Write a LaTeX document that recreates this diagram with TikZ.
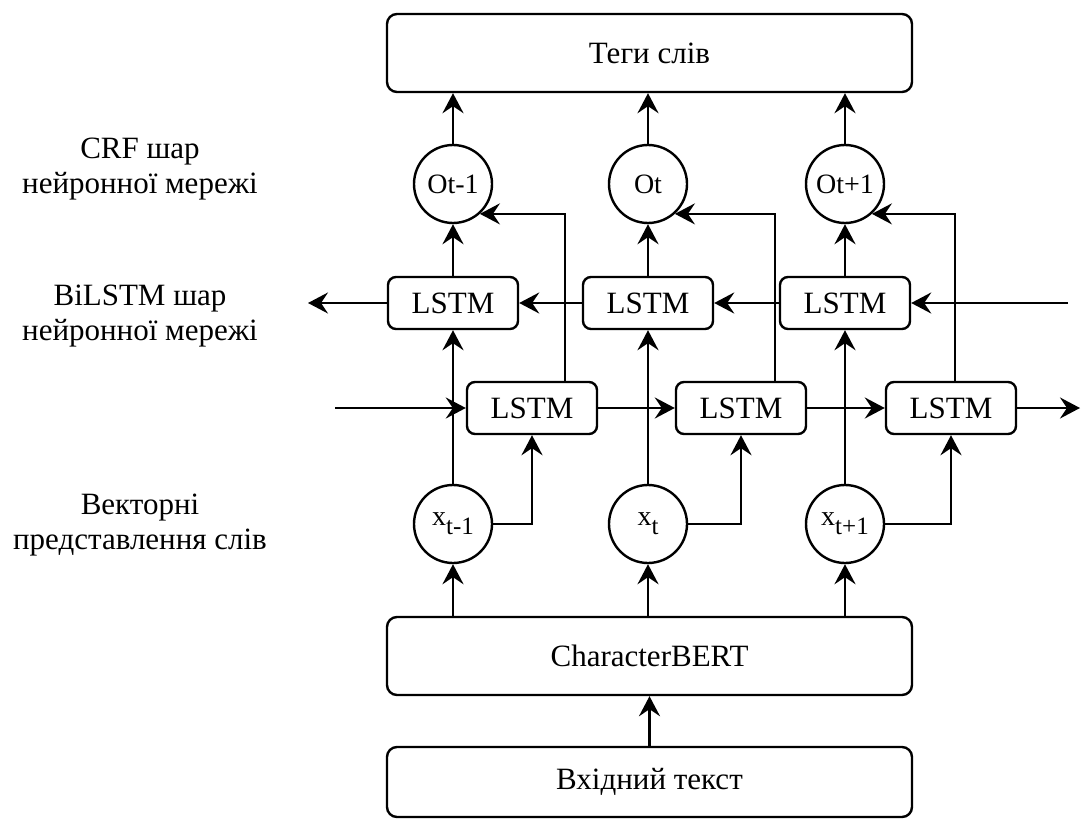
\documentclass[tikz,border=0pt]{standalone}
\usepackage{fontspec}
\setmainfont{Liberation Serif}
\usetikzlibrary{arrows.meta,calc}
\newcommand{\mysubx}[1]{x\raisebox{-9pt}{\fontsize{25}{25}\selectfont #1}}
\begin{document}
\begin{tikzpicture}[x=1pt,y=-1pt,
  line width=2.4pt,
  arr/.style={-{Stealth[length=20pt,width=21pt,inset=7pt]}},
  bigbox/.style={draw, rounded corners=10pt, minimum width=525pt, minimum height=78pt, inner sep=0pt, font=\fontsize{31}{31}\selectfont},
  lstm/.style={draw, rounded corners=8pt, minimum width=130pt, minimum height=52pt, inner sep=0pt, font=\fontsize{31}{31}\selectfont},
  neuron/.style={draw, circle, minimum size=78pt, inner sep=0pt, font=\fontsize{28}{28}\selectfont},
  lbl/.style={align=center, font=\fontsize{31}{35}\selectfont}
]
\useasboundingbox (0,0) rectangle (1081,821);

% left labels
\node[lbl] (crf) at (140,169) {CRF шар\\нейронної мережі};
\node[lbl] (bil) at (140,316) {BiLSTM шар\\нейронної мережі};
\node[lbl] (vec) at (140,525) {Векторні\\представлення слів};

% boxes
\node[bigbox] (tags) at (649.5,53) {Теги слів};
\node[bigbox] (cb) at (649.5,656) {CharacterBERT};
\node[bigbox, minimum height=70pt] (inp) at (649.5,782) {Вхідний текст};

% CRF outputs
\node[neuron] (O1) at (453,184) {Ot-1};
\node[neuron] (O2) at (648,184) {Ot};
\node[neuron] (O3) at (845,184) {Ot+1};

% backward LSTMs
\node[lstm] (U1) at (453,303) {LSTM};
\node[lstm] (U2) at (648,303) {LSTM};
\node[lstm] (U3) at (845,303) {LSTM};

% forward LSTMs
\node[lstm] (L1) at (532,408) {LSTM};
\node[lstm] (L2) at (741,408) {LSTM};
\node[lstm] (L3) at (951,408) {LSTM};

% word vectors
\node[neuron] (X1) at (453,524) {\mysubx{t-1}};
\node[neuron] (X2) at (648,524) {\mysubx{t}};
\node[neuron] (X3) at (845,524) {\mysubx{t+1}};

% free ends
\coordinate (bR) at (1068,303);
\coordinate (bL) at (308,303);
\coordinate (fL) at (335,408);
\coordinate (fR) at (1080,408);

% input -> CharacterBERT
\draw[arr] (inp.north) -- (cb.south);

% CharacterBERT -> x
\foreach \i in {1,2,3} {
  \draw[arr] (X\i.south |- cb.north) -- (X\i.south);
}

% x -> backward LSTM
\foreach \i in {1,2,3} {
  \draw[arr] (X\i.north) -- (X\i.north |- U\i.south);
}

% x -> forward LSTM
\foreach \i in {1,2,3} {
  \draw[arr] (X\i.east) -| (L\i.south);
}

% backward LSTM -> O
\foreach \i in {1,2,3} {
  \draw[arr] (U\i.north) -- (O\i.south);
}

% O -> tags
\foreach \i in {1,2,3} {
  \draw[arr] (O\i.north) -- (O\i.north |- tags.south);
}

% forward LSTM -> O (feedback)
\draw[arr] ([xshift=33pt]L1.north) |- (O1.-48);
\draw[arr] ([xshift=34pt]L2.north) |- (O2.-48);
\draw[arr] ([xshift=4pt]L3.north) |- (O3.-48);

% backward chain
\draw[arr] (bR) -- (U3.east);
\draw[arr] (U3.west) -- (U2.east);
\draw[arr] (U2.west) -- (U1.east);
\draw[arr] (U1.west) -- (bL);

% forward chain
\draw[arr] (fL) -- (L1.west);
\draw[arr] (L1.east) -- (L2.west);
\draw[arr] (L2.east) -- (L3.west);
\draw[arr] (L3.east) -- (fR);

\end{tikzpicture}
\end{document}
